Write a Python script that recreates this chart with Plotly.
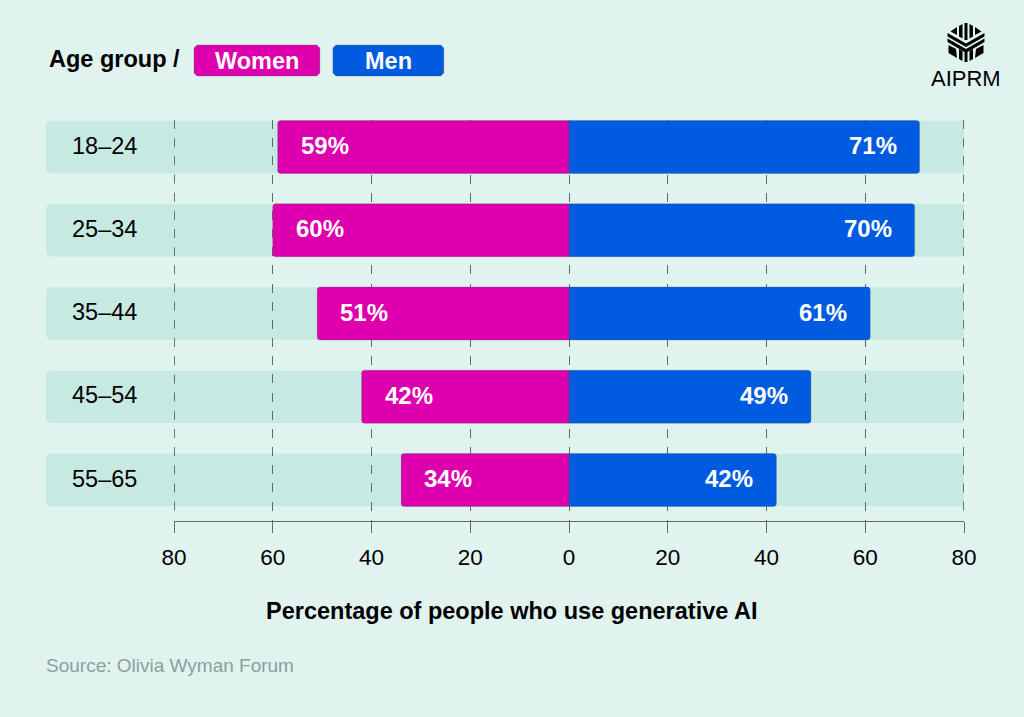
import plotly.graph_objects as go

categories = ["18–24", "25–34", "35–44", "45–54", "55–65"]
women = [59, 60, 51, 42, 34]
men = [71, 70, 61, 49, 42]
x_ticks = [-80, -60, -40, -20, 0, 20, 40, 60, 80]
x_labels = ["80", "60", "40", "20", "0", "20", "40", "60", "80"]

W, H = 1024, 717
L, R, T, B = 174, 964.5, 120, 521
BG = "#e0f3ef"
BAND = "#c6e9e2"
PINK = "#dd00ac"
BLUE = "#005be0"
FONT = "Liberation Sans"
GRID = "#5f6b69"
DASH = "9px,9.17px"
EDGE = "rgba(60,90,90,0.25)"


def px(x):
    return (x - L) / (R - L)


def py(y):
    return (B - y) / (B - T)


def rrect(x0, y0, x1, y1, r):
    c = [(x0 + r, y0), (x1 - r, y0), (x1, y0 + r), (x1, y1 - r), (x1 - r, y1), (x0 + r, y1), (x0, y1 - r), (x0, y0 + r)]
    return "M" + " L".join(f"{px(a):.5f},{py(b):.5f}" for a, b in c) + " Z"


def poly(points):
    return "M" + " L".join(f"{px(a):.5f},{py(b):.5f}" for a, b in points) + " Z"


y_idx = list(range(len(categories)))
fig = go.Figure()
fig.add_bar(y=y_idx, x=[-v for v in women], orientation="h", marker=dict(color=PINK, cornerradius=3, line=dict(width=1, color=EDGE)), name="Women", showlegend=False, hoverinfo="skip")
fig.add_bar(y=y_idx, x=men, orientation="h", marker=dict(color=BLUE, cornerradius=3, line=dict(width=1, color=EDGE)), name="Men", showlegend=False, hoverinfo="skip")

shapes = []
# background bands, under the gridlines, rounded on the left
band_half = 0.3155
ry = 3 / 83.25
rx = 3 / (R - L)
for i in y_idx:
    a, b = i - band_half, i + band_half
    x0, x1 = px(46), px(R)
    path = (f"M{x0 + rx:.5f},{a:.4f} L{x1:.5f},{a:.4f} L{x1:.5f},{b:.4f} L{x0 + rx:.5f},{b:.4f} "
            f"L{x0:.5f},{b - ry:.4f} L{x0:.5f},{a + ry:.4f} Z")
    shapes.append(dict(type="path", layer="below", xref="paper", yref="y", path=path, line_width=0, fillcolor=BAND))

# the two outer gridlines, which the axis does not draw at its own ends
for v in (x_ticks[0], x_ticks[-1]):
    shapes.append(dict(type="line", layer="between", xref="x", yref="paper", x0=v, x1=v, y0=1, y1=py(512),
                       line=dict(color="#4a5553", width=1.6, dash=DASH)))

# legend badges
shapes.append(dict(type="path", xref="paper", yref="paper", path=rrect(194, 45, 320, 76, 3), fillcolor=PINK, line=dict(width=1, color=EDGE)))
shapes.append(dict(type="path", xref="paper", yref="paper", path=rrect(333, 45, 444, 76, 3), fillcolor=BLUE, line=dict(width=1, color=EDGE)))

# logo mark
logo = [
    [(965, 23), (968, 23), (968, 40), (965, 40)],
    [(959.5, 26), (963, 24), (963, 38.5), (959.5, 36.5)],
    [(970, 24), (973.5, 26), (973.5, 36.5), (970, 38.5)],
    [(957.5, 27), (957.5, 35), (951, 31.5)],
    [(975.5, 27), (975.5, 35), (982, 31.5)],
    [(948, 33), (966.5, 43.5), (985, 33), (985, 36.5), (966.5, 47), (948, 36.5)],
    [(948, 38.5), (966.5, 49), (985, 38.5), (985, 42), (968, 52), (968, 62), (965, 62), (965, 52), (948, 42)],
    [(959.5, 49), (963, 51), (963, 61), (959.5, 59)],
    [(970, 51), (973.5, 49), (973.5, 59), (970, 61)],
    [(949, 45), (956.5, 49), (957.5, 58), (949, 53)],
    [(984, 45), (976.5, 49), (975.5, 58), (984, 53)],
]
for pts in logo:
    shapes.append(dict(type="path", xref="paper", yref="paper", path=poly(pts), fillcolor="#000000", line_width=0))

annotations = []


def note(x, y, text, size, color="#000000", bold=False, anchor="left", xref="paper", yref="paper", xshift=0, yshift=0):
    annotations.append(dict(x=x, y=y, xref=xref, yref=yref, text=f"<b>{text}</b>" if bold else text,
                            showarrow=False, xanchor=anchor, yanchor="middle", xshift=xshift, yshift=yshift,
                            font=dict(family=FONT, size=size, color=color)))


for i, cat in enumerate(categories):
    note(px(69.5), i, cat, 23.5, yref="y", yshift=1.5)
    note(-women[i], i, f"{women[i]}%", 24, "#ffffff", True, "left", "x", "y", 21, 1.5)
    note(men[i], i, f"{men[i]}%", 24, "#ffffff", True, "right", "x", "y", -21, 1.5)

note(px(46.5), py(59), "Age group /", 23.5, bold=True)
note(px(257), py(61), "Women", 23.5, "#ffffff", True, "center")
note(px(388.5), py(61), "Men", 23.5, "#ffffff", True, "center")
note(px(967), py(78), "AIPRM", 22, anchor="center")
note(px(44), py(665), "Source: Olivia Wyman Forum", 19, "#8b9f9c")
note(px(512), py(610.5), "Percentage of people who use generative AI", 23.5, bold=True, anchor="center")

fig.update_layout(
    width=W, height=H, autosize=False, barmode="relative", bargap=0.364,
    paper_bgcolor=BG, plot_bgcolor="rgba(0,0,0,0)",
    margin=dict(l=L, r=W - R, t=T, b=H - B, pad=0),
    shapes=shapes, annotations=annotations,
    font=dict(family=FONT, color="#000000"),
    xaxis=dict(range=[-80, 80], tickvals=x_ticks, ticktext=x_labels, ticks="outside", ticklen=11,
               tickcolor=GRID, tickwidth=1, showline=True, linecolor=GRID, linewidth=1,
               showgrid=True, gridcolor=GRID, griddash=DASH, gridwidth=1, zeroline=False,
               tickfont=dict(size=22.5, family=FONT, color="#000000"), ticklabelstandoff=5,
               automargin=False, fixedrange=True),
    yaxis=dict(range=[4.4925, -0.325], showticklabels=False, showgrid=False, zeroline=False,
               ticks="", showline=False, automargin=False, fixedrange=True),
)

fig.write_html("out.html", config=dict(displayModeBar=False), post_script="document.body.style.margin='0';document.body.style.background='" + BG + "';")
